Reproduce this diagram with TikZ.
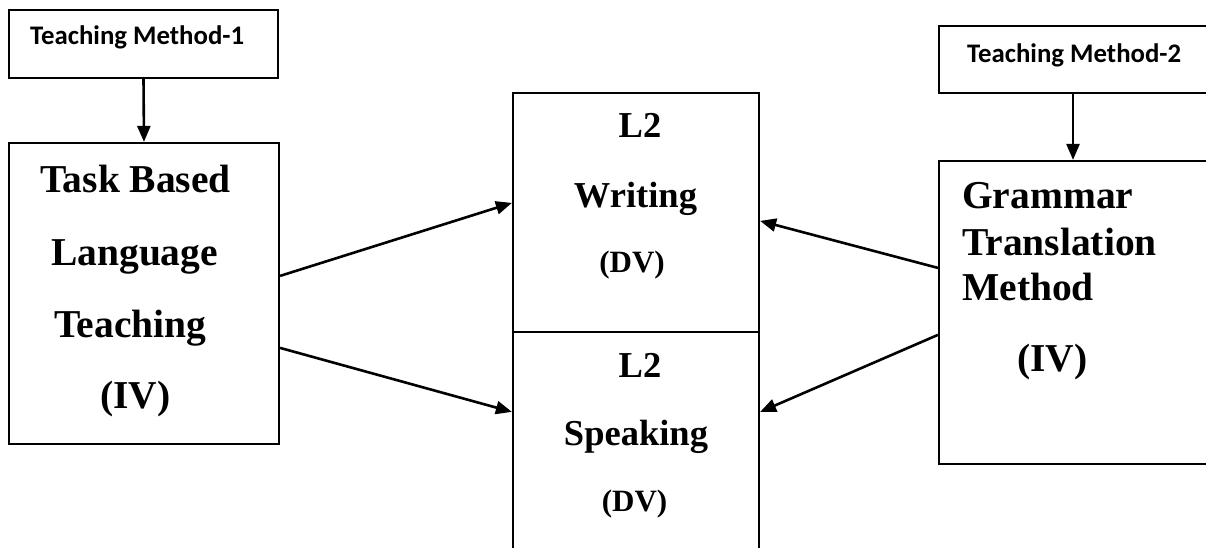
\documentclass[tikz,border=0pt]{standalone}
\usepackage{fontspec}
\setmainfont{Liberation Serif}
\newfontfamily\labelfont{Carlito}
\usetikzlibrary{arrows.meta}
\tikzset{
  box/.style={draw, line width=2.2pt, rectangle, inner sep=0pt},
  arr/.style={line width=2.6pt, -{Triangle[length=16pt,width=13pt]}},
  big/.style={anchor=base west, inner sep=0pt, font=\fontsize{39.5}{40}\selectfont\bfseries},
  mid/.style={anchor=base, inner sep=0pt, font=\fontsize{36.5}{37}\selectfont\bfseries},
  dv/.style={anchor=base, inner sep=0pt, font=\fontsize{31}{32}\selectfont\bfseries},
  small/.style={anchor=base west, inner sep=0pt, font=\labelfont\fontsize{26.8}{27}\selectfont\bfseries},
}
\begin{document}
\begin{tikzpicture}[x=1pt,y=-1pt]
\useasboundingbox (0,0) rectangle (1206,548);
\clip (0,0) rectangle (1206,548);
% boxes
\node[box, minimum width=269pt, minimum height=68pt] (tm1) at (143.5,44) {};
\node[box, minimum width=270pt, minimum height=301pt] (tbl) at (144,293.5) {};
\node[box, minimum width=246pt, minimum height=239pt] (wr) at (636,212.5) {};
\node[box, minimum width=246pt, minimum height=268pt] (sp) at (636,466) {};
\node[box, minimum width=291pt, minimum height=67pt] (tm2) at (1084.5,59.5) {};
\node[box, minimum width=291pt, minimum height=303pt] (gtm) at (1084.5,312.5) {};
% texts
\node[small] (l1) at (30,45) {Teaching Method-1};
\node[small] (l2) at (967,63) {Teaching Method-2};
\node[big] (t1) at (40,192) {Task Based};
\node[big] (t2) at (51,265) {Language};
\node[big] (t3) at (54,337) {Teaching};
\node[big] (t4) at (100,408) {(IV)};
\node[big] (g1) at (962,208) {Grammar};
\node[big] (g2) at (962,255) {Translation};
\node[big] (g3) at (962,300) {Method};
\node[big] (g4) at (1017,371) {(IV)};
\node[mid] (w1) at (640,138) {L2};
\node[mid] (w2) at (635.5,207) {Writing};
\node[dv] (w3) at (632,272) {(DV)};
\node[mid] (s1) at (640,377) {L2};
\node[mid] (s2) at (636,445) {Speaking};
\node[dv] (s3) at (634.5,511) {(DV)};
% connectors
\draw[arr] (tm1.south) -- (tbl.north);
\draw[arr] ([xshift=-11.5pt]tm2.south) -- ([xshift=-11.5pt]gtm.north);
\draw[arr] ([yshift=-134pt]tbl.north east) -- ([yshift=-111pt]wr.north west);
\draw[arr] ([yshift=-206pt]tbl.north east) -- ([yshift=-81pt]sp.north west);
\draw[arr] ([yshift=-108pt]gtm.north west) -- ([yshift=-129pt]wr.north east);
\draw[arr] ([yshift=-175pt]gtm.north west) -- ([yshift=-81pt]sp.north east);
\end{tikzpicture}
\end{document}
